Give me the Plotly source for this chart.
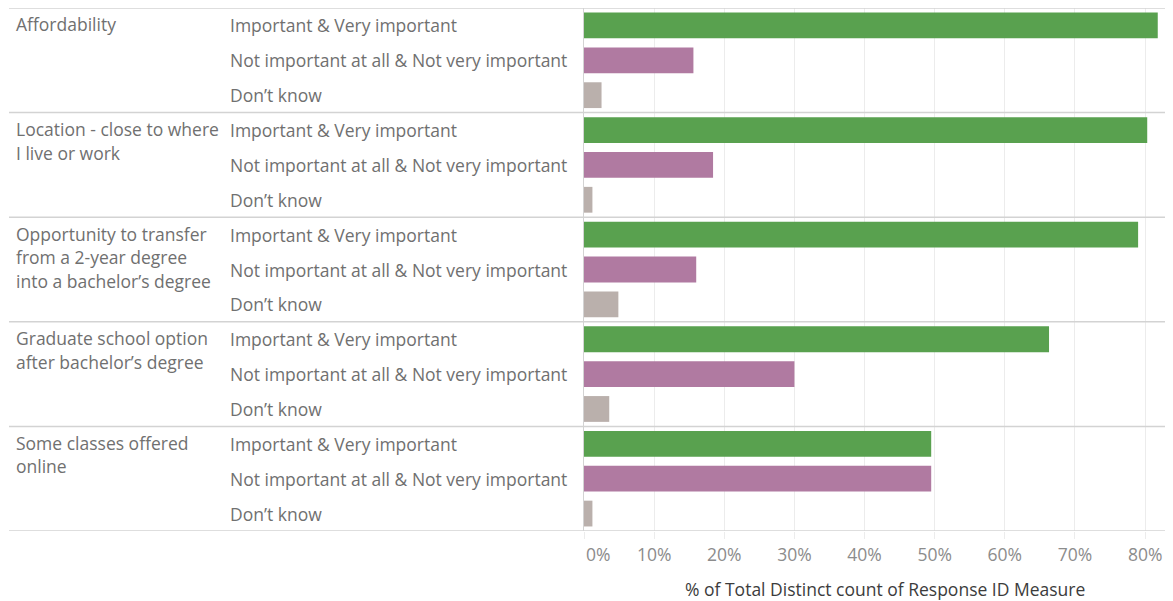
import plotly.graph_objects as go

groups = [
    "Affordability",
    "Location - close to where<br>I live or work",
    "Opportunity to transfer<br>from a 2-year degree<br>into a bachelor’s degree",
    "Graduate school option<br>after bachelor’s degree",
    "Some classes offered<br>online",
]
responses = [
    "Important & Very important",
    "Not important at all & Not very important",
    "Don’t know",
]
important = [0.818, 0.803, 0.790, 0.663, 0.495]
not_important = [0.156, 0.184, 0.160, 0.300, 0.495]
dont_know = [0.025, 0.012, 0.049, 0.036, 0.012]
x_ticks = [0, 0.1, 0.2, 0.3, 0.4, 0.5, 0.6, 0.7, 0.8]
x_tick_text = ["0%", "10%", "20%", "30%", "40%", "50%", "60%", "70%", "80%"]
x_title = "% of Total Distinct count of Response ID Measure"

colors = {"Important & Very important": "#59A14F",
          "Not important at all & Not very important": "#B07AA1",
          "Don’t know": "#BAB0AC"}
series = {responses[0]: important, responses[1]: not_important, responses[2]: dont_know}

FONT = "Open Sans"
FS = 17.5
LABEL_C = "#707070"
OFF = 8  # page body margin
W, H = 1173 - OFF, 601 - OFF
L = 583.5 - OFF
T, B = 0, 70

cats, vals, cols = [], [], []
for gi, g in enumerate(groups):
    for r in responses:
        cats.append(f"{gi}|{r}")
        vals.append(series[r][gi])
        cols.append(colors[r])

fig = go.Figure(go.Bar(
    y=cats, x=vals, orientation="h", marker=dict(color=cols, line=dict(width=0)),
    width=0.74, hoverinfo="x+y"))

plot_w = W - L

def px_to_paper(px_page):
    return (px_page - OFF - L) / plot_w

shapes = []
n = len(cats)
for k in range(len(groups) + 1):
    yb = k * 3 - 0.5
    shapes.append(dict(type="line", xref="paper", yref="y", x0=px_to_paper(OFF), x1=1,
                       y0=yb, y1=yb, line=dict(color="#d3d3d3", width=1.5), layer="above"))

annotations = []
for gi, g in enumerate(groups):
    for li, line in enumerate(g.split("<br>")):
        annotations.append(dict(xref="paper", yref="y", x=px_to_paper(13), y=f"{gi}|{responses[0]}",
                                text=line, showarrow=False, xanchor="left", yanchor="middle",
                                yshift=1 - 23.5 * li,
                                font=dict(family=FONT, size=FS, color=LABEL_C)))
    for r in responses:
        annotations.append(dict(xref="paper", yref="y", x=px_to_paper(227), y=f"{gi}|{r}",
                                text=r, showarrow=False, xanchor="left", yanchor="middle",
                                font=dict(family=FONT, size=FS, color=LABEL_C)))

# first tick label is drawn left-aligned at the axis start (as in the source)
annotations.append(dict(xref="x", yref="paper", x=x_ticks[0], y=0, yanchor="top", xanchor="left",
                        yshift=-9, text=x_tick_text[0], showarrow=False,
                        font=dict(family=FONT, size=FS, color="#8c8c8c")))
# axis title
annotations.append(dict(xref="paper", yref="paper", x=px_to_paper(885), y=0, yanchor="middle",
                        xanchor="center", yshift=-(589 - 531), text=x_title, showarrow=False,
                        font=dict(family=FONT, size=FS, color="#3c3c3c")))

fig.update_layout(
    width=W, height=H,
    margin=dict(l=L, r=0, t=T, b=B, pad=0),
    paper_bgcolor="white", plot_bgcolor="white",
    showlegend=False,
    font=dict(family=FONT, size=FS, color=LABEL_C),
    shapes=shapes, annotations=annotations,
    xaxis=dict(range=[0, plot_w / 70.2 / 10], tickvals=x_ticks,
               ticktext=[""] + x_tick_text[1:],
               showgrid=True, gridcolor="#ececec", gridwidth=1, zeroline=False,
               ticks="outside", ticklen=7, tickcolor="#ececec",
               tickfont=dict(family=FONT, size=FS, color="#8c8c8c"),
               ticklabelstandoff=1,
               fixedrange=True),
    yaxis=dict(type="category", categoryorder="array", categoryarray=cats,
               range=[n - 0.5, -0.5], showticklabels=False, showgrid=False,
               showline=True, linecolor="#d3d3d3", linewidth=1, zeroline=False, ticks="",
               fixedrange=True),
)

fig.write_html("out.html")
